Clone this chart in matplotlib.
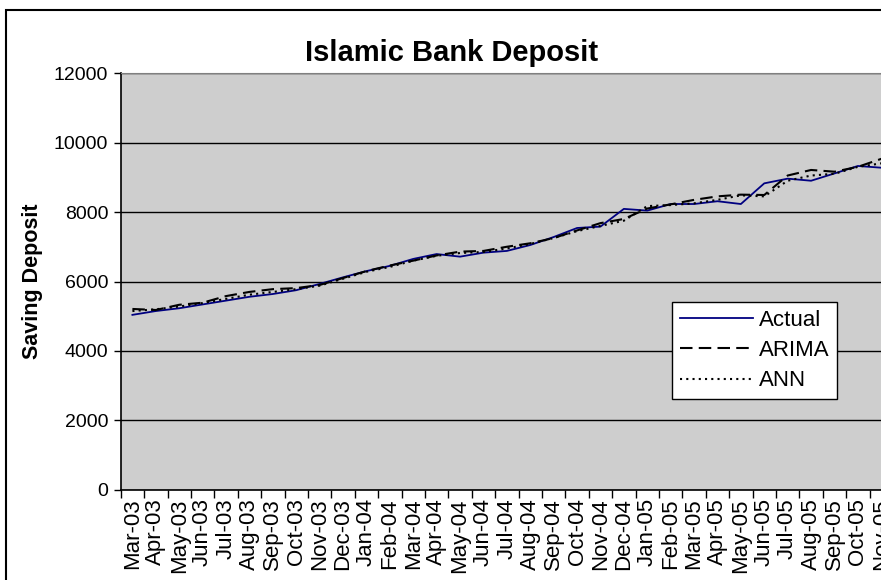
import matplotlib
matplotlib.use("Agg")
import matplotlib.pyplot as plt
from matplotlib.patches import Rectangle

plt.rcParams['font.family'] = ['Liberation Sans', 'DejaVu Sans']

months = ["Mar-03", "Apr-03", "May-03", "Jun-03", "Jul-03", "Aug-03", "Sep-03",
          "Oct-03", "Nov-03", "Dec-03", "Jan-04", "Feb-04", "Mar-04", "Apr-04",
          "May-04", "Jun-04", "Jul-04", "Aug-04", "Sep-04", "Oct-04", "Nov-04",
          "Dec-04", "Jan-05", "Feb-05", "Mar-05", "Apr-05", "May-05", "Jun-05",
          "Jul-05", "Aug-05", "Sep-05", "Oct-05", "Nov-05"]

actual = [5040, 5150, 5230, 5340, 5450, 5560, 5640, 5750, 5930, 6120, 6300,
          6450, 6650, 6790, 6715, 6830, 6880, 7050, 7280, 7540, 7580, 8090,
          8040, 8230, 8230, 8310, 8230, 8825, 8960, 8900, 9110, 9325, 9275]

arima = [5210, 5180, 5330, 5390, 5580, 5700, 5780, 5810, 5900, 6100, 6300,
         6460, 6600, 6750, 6860, 6880, 7000, 7100, 7250, 7470, 7680, 7800,
         8100, 8220, 8350, 8450, 8500, 8490, 9050, 9210, 9160, 9300, 9530]

ann = [5150, 5200, 5280, 5380, 5500, 5620, 5700, 5780, 5880, 6080, 6280,
       6420, 6600, 6740, 6820, 6850, 6950, 7080, 7250, 7450, 7600, 7750,
       8170, 8200, 8250, 8350, 8480, 8450, 8900, 9050, 9100, 9300, 9400]

y_ticks = [0, 2000, 4000, 6000, 8000, 10000, 12000]

fig = plt.figure(figsize=(8.81, 5.80), dpi=100)
ax = fig.add_axes([0.137, 0.1552, 0.8766, 0.7189])
ax.set_facecolor("#cecece")

x = list(range(len(months)))
ax.plot(x, actual, color="#000080", linewidth=1.3, label="Actual", zorder=3)
ax.plot(x, arima, color="black", linewidth=1.5, linestyle=(0, (6, 3)), label="ARIMA", zorder=4)
ax.plot(x, ann, color="black", linewidth=1.5, linestyle=(0, (1, 2)), label="ANN", zorder=5)

ax.set_xlim(-0.5, len(months) - 0.5)
ax.set_ylim(0, 12000)
ax.set_yticks(y_ticks)
ax.set_yticklabels([str(v) for v in y_ticks], fontsize=14)
ax.yaxis.grid(True, color="black", linewidth=1)
ax.set_axisbelow(True)

ax.set_xticks(x)
ax.set_xticklabels(months, rotation=90, fontsize=16)
ax.set_xticks([i - 0.5 for i in range(len(months) + 1)], minor=True)
ax.tick_params(axis="x", which="major", length=0, pad=6)
ax.tick_params(axis="x", which="minor", length=6, width=1, color="black")
ax.tick_params(axis="y", length=5, width=1, color="black", pad=4)

for side in ["top", "right"]:
    ax.spines[side].set_color("#808080")
for side in ["left", "bottom"]:
    ax.spines[side].set_color("black")
    ax.spines[side].set_linewidth(1.2)

ax.set_ylabel("Saving Deposit", fontsize=15.5, fontweight="bold", labelpad=8)
fig.text(0.512, 0.908, "Islamic Bank Deposit", ha="center", va="center",
         fontsize=21, fontweight="bold")

leg = ax.legend(loc="upper left", bbox_to_anchor=(672 / 881, 1 - 302 / 580),
                bbox_transform=fig.transFigure, fontsize=16, frameon=True,
                fancybox=False, edgecolor="black", framealpha=1,
                handlelength=3.3, handletextpad=0.25, borderpad=0.35,
                labelspacing=0.42, borderaxespad=0)
leg.get_frame().set_linewidth(1)

fig.patches.append(Rectangle((6 / 881, -0.1), 1.2, 1.1 - 10 / 580,
                             transform=fig.transFigure, fill=False,
                             edgecolor="black", linewidth=1.5))

fig.savefig("out.png", dpi=100)
plt.close(fig)
